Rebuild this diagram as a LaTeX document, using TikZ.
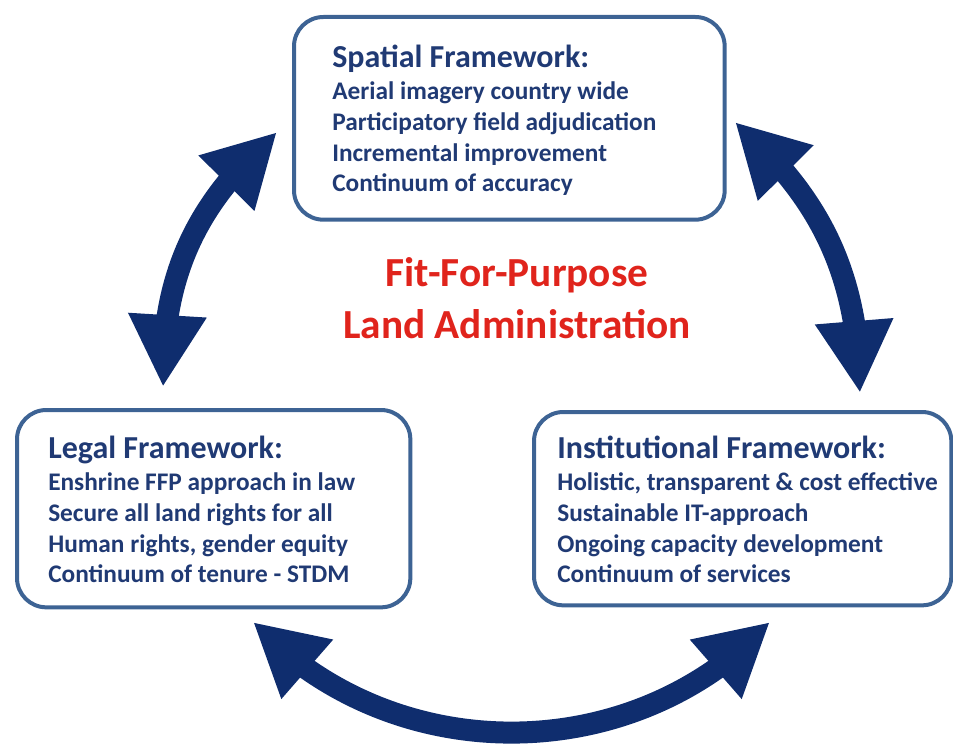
\documentclass[tikz,border=0pt]{standalone}
\usepackage{fontspec}
\setmainfont{Carlito}
\usetikzlibrary{arrows.meta,bending}
\definecolor{frameblue}{RGB}{61,99,148}
\definecolor{textblue}{RGB}{32,58,116}
\definecolor{arrowblue}{RGB}{15,45,110}
\definecolor{fitred}{RGB}{224,36,28}
\newcommand{\headsize}{\fontsize{24}{26}\selectfont}

\begin{document}
\begin{tikzpicture}[x=0.75pt,y=-0.75pt,
  frame/.style={draw=frameblue,line width=3pt,rounded corners=22pt,anchor=north west,inner sep=0pt},
  body/.style={anchor=north west,align=left,inner sep=0pt,text=textblue,font=\bfseries\fontsize{19}{23}\selectfont},
  loop/.style={draw=arrowblue,line width=16.5pt,{Triangle[length=54pt,width=55pt,flex]}-{Triangle[length=54pt,width=55pt,flex]}}]

\useasboundingbox (0,0) rectangle (953,749);

\node [frame,minimum width=323pt,minimum height=152pt] (spatial) at (292,15) {};
\node [frame,minimum width=295pt,minimum height=148pt] (legal) at (15,408) {};
\node [frame,minimum width=313pt,minimum height=145pt] (institutional) at (532,410) {};

\node [body] (spatialtxt) at (332,45) {{\headsize Spatial Framework:}\\[1pt]
  Aerial imagery country wide\\ Participatory field adjudication\\
  Incremental improvement\\ Continuum of accuracy};
\node [body] (legaltxt) at (48,436) {{\headsize Legal Framework:}\\[1pt]
  Enshrine FFP approach in law\\ Secure all land rights for all\\
  Human rights, gender equity\\ Continuum of tenure - STDM};
\node [body] (institutionaltxt) at (557,436) {{\headsize Institutional Framework:}\\[1pt]
  Holistic, transparent \& cost effective\\ Sustainable IT-approach\\
  Ongoing capacity development\\ Continuum of services};

\node [align=center,text=fitred,font=\bfseries\fontsize{31}{39}\selectfont] (fitfp) at (517,298)
  {Fit-For-Purpose\\ Land Administration};

\coordinate (ls) at (163,387);
\coordinate (sl) at (277,132);
\coordinate (sr) at (735,122);
\coordinate (rs) at (860,393);
\coordinate (lr) at (253,622);
\coordinate (rl) at (770,622);

\draw [loop] (ls) to [bend left=25] (sl);
\draw [loop] (sr) to [bend left=24] (rs);
\draw [loop] (lr) to [bend right=47] (rl);

\end{tikzpicture}
\end{document}
